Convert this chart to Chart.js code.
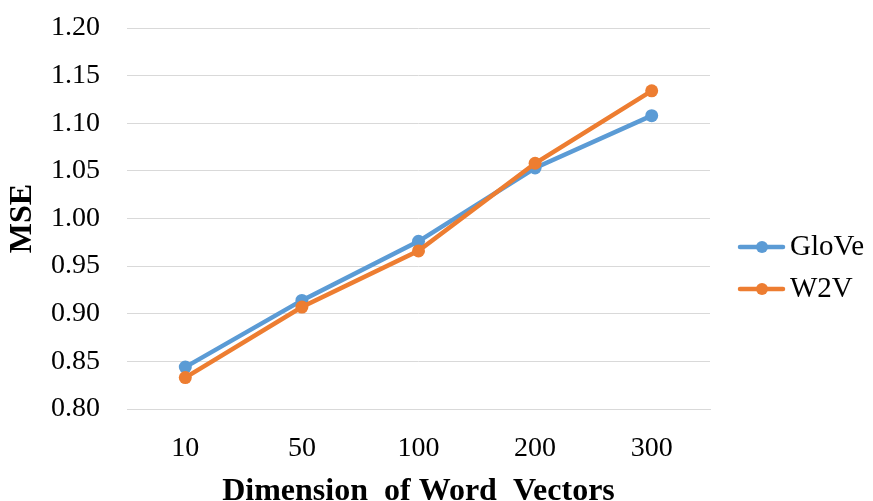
<!DOCTYPE html>
<html>
<head>
<meta charset="utf-8">
<script src="https://cdn.jsdelivr.net/npm/chart.js@4.4.1/dist/chart.umd.min.js"></script>
<style>
  html, body { margin: 0; padding: 0; background: #ffffff; }
  #wrap { width: 873px; height: 501px; position: relative; }
</style>
</head>
<body>
<div id="wrap"><canvas id="chart" width="873" height="501"></canvas></div>
<script>
// Word-vector dimension vs. mean squared error
const dimensions = ['10', '50', '100', '200', '300'];
const gloveMse = [0.844, 0.914, 0.976, 1.053, 1.108];
const w2vMse = [0.833, 0.907, 0.966, 1.058, 1.134];
const seriesNames = ['GloVe', 'W2V'];
const seriesColors = ['#5B9BD5', '#ED7D31'];

const SERIF = '"Liberation Serif", "Times New Roman", serif';

// Legend: a short line with a dot, followed by the series name
const sideLegend = {
  id: 'sideLegend',
  afterDraw(chart) {
    const ctx = chart.ctx;
    const x0 = 740, rowY = [247, 289];
    ctx.save();
    chart.data.datasets.forEach((ds, i) => {
      const y = rowY[i];
      ctx.strokeStyle = ds.borderColor;
      ctx.lineWidth = 4.5;
      ctx.lineCap = 'round';
      ctx.beginPath();
      ctx.moveTo(x0, y);
      ctx.lineTo(x0 + 43, y);
      ctx.stroke();
      ctx.fillStyle = ds.borderColor;
      ctx.beginPath();
      ctx.arc(x0 + 22, y, 6, 0, Math.PI * 2);
      ctx.fill();
      ctx.fillStyle = '#000000';
      ctx.font = '29px ' + SERIF;
      ctx.textBaseline = 'middle';
      ctx.textAlign = 'left';
      ctx.fillText(ds.label, x0 + 50, y);
    });
    ctx.restore();
  }
};

new Chart(document.getElementById('chart'), {
  type: 'line',
  data: {
    labels: dimensions,
    datasets: [
      {
        label: seriesNames[0],
        data: gloveMse,
        borderColor: seriesColors[0],
        backgroundColor: seriesColors[0],
        borderWidth: 4.5,
        pointRadius: 6.5,
        pointHoverRadius: 6.5,
        pointBorderWidth: 0,
        tension: 0,
        order: 1
      },
      {
        label: seriesNames[1],
        data: w2vMse,
        borderColor: seriesColors[1],
        backgroundColor: seriesColors[1],
        borderWidth: 4.5,
        pointRadius: 6.5,
        pointHoverRadius: 6.5,
        pointBorderWidth: 0,
        tension: 0,
        order: 0
      }
    ]
  },
  options: {
    responsive: false,
    animation: false,
    layout: { padding: { top: 28, right: 163, left: 4, bottom: 0 } },
    plugins: {
      legend: { display: false },
      tooltip: { enabled: false }
    },
    scales: {
      x: {
        offset: true,
        grid: { display: false, drawTicks: false },
        border: { display: true, color: '#D9D9D9', width: 1 },
        ticks: {
          color: '#000000',
          font: { family: SERIF, size: 28 },
          padding: 23
        },
        title: {
          display: true,
          text: 'Dimension  of Word  Vectors',
          color: '#000000',
          font: { family: SERIF, size: 32, weight: 'bold' },
          padding: { top: 0, bottom: -10 }
        },
        afterFit(scale) {
          scale.height = 92;
          scale.paddingTop = 0;
          scale.paddingBottom = 0;
        }
      },
      y: {
        min: 0.8,
        max: 1.2,
        grid: { color: '#D9D9D9', lineWidth: 1, drawTicks: false },
        border: { display: false },
        ticks: {
          stepSize: 0.05,
          color: '#000000',
          font: { family: SERIF, size: 28 },
          padding: 27,
          callback: (v) => Number(v).toFixed(2)
        },
        title: {
          display: true,
          text: 'MSE',
          color: '#000000',
          font: { family: SERIF, size: 32, weight: 'bold' },
          padding: { top: 0, bottom: 0 }
        },
        afterFit(scale) {
          scale.width = 123;
          scale.paddingTop = 0;
          scale.paddingBottom = 0;
        }
      }
    }
  },
  plugins: [sideLegend]
});
</script>
</body>
</html>
